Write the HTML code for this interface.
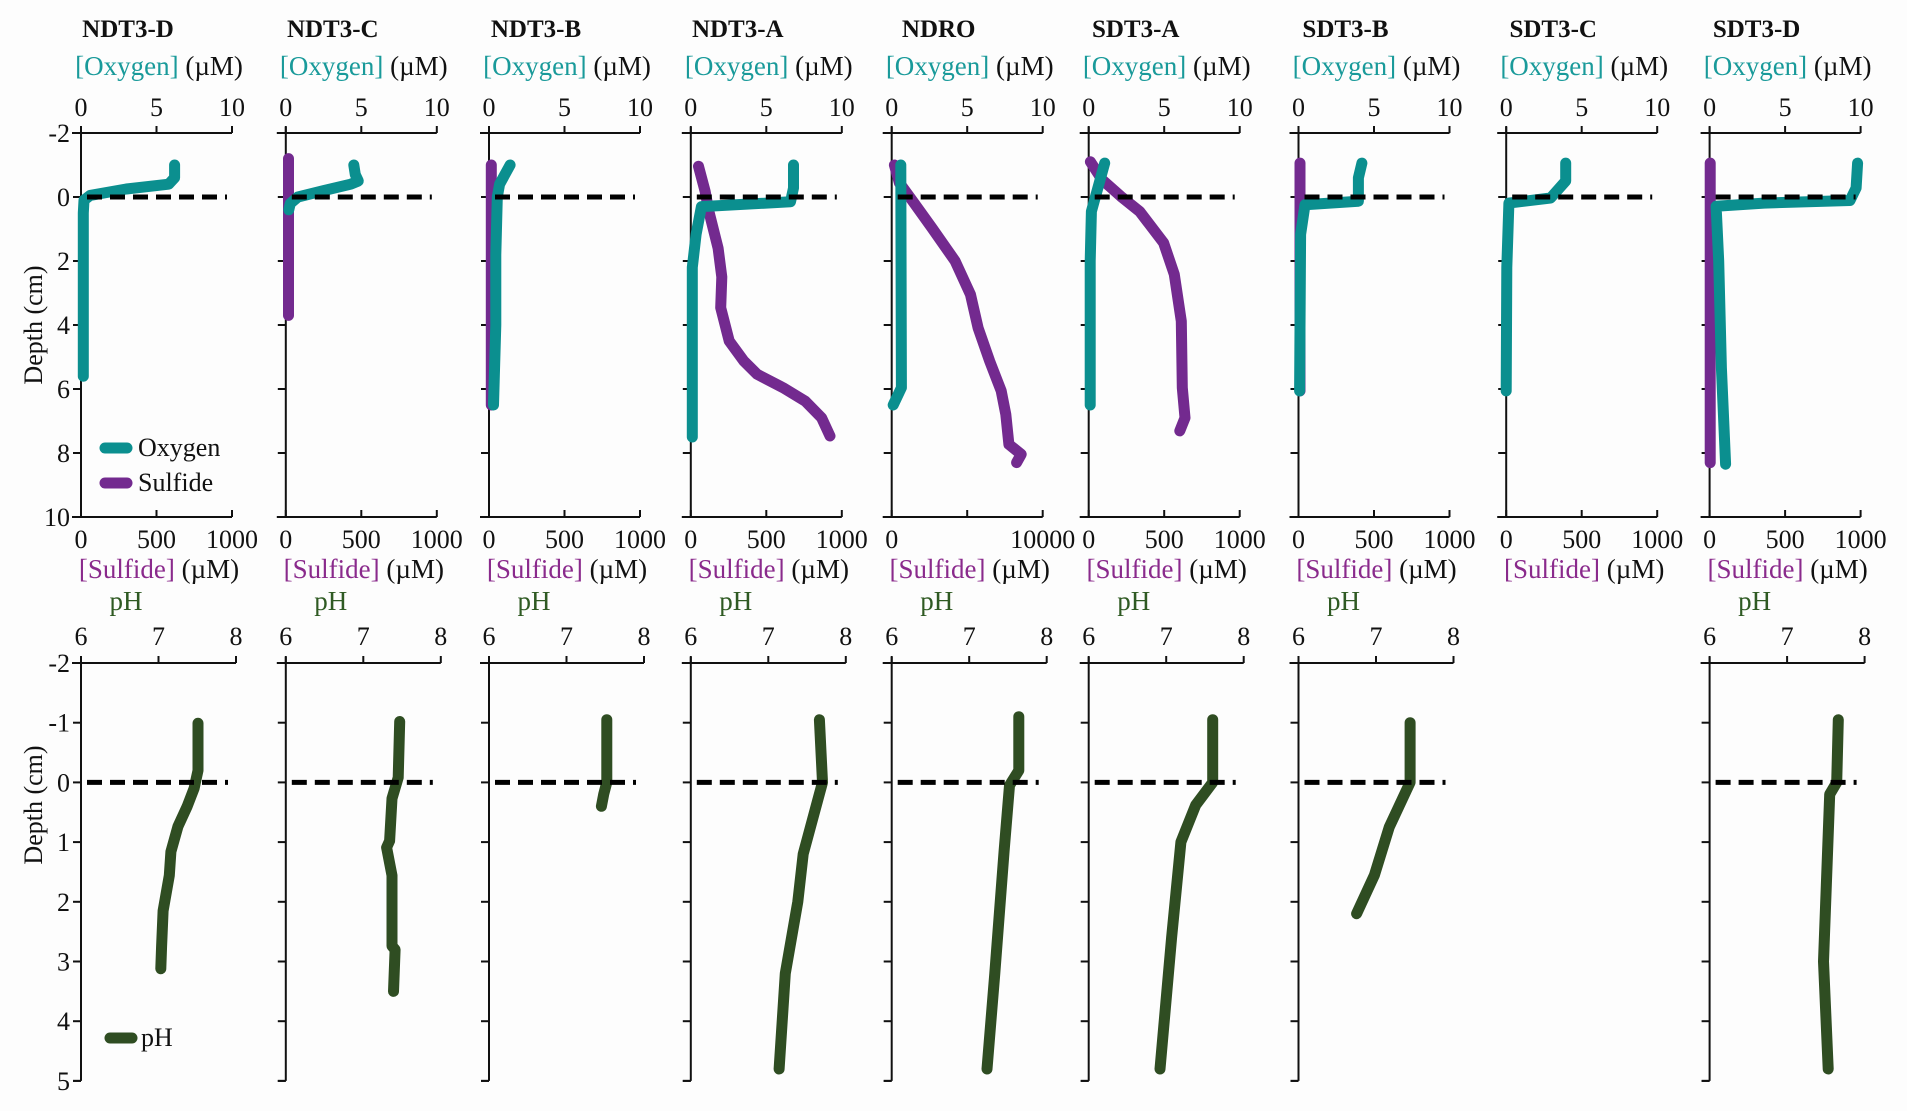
<!DOCTYPE html>
<html><head><meta charset="utf-8"><style>
html,body{margin:0;padding:0;background:#fdfdfd;}
svg{display:block;font-family:"Liberation Serif",serif;}
</style></head><body>
<svg id="chart" width="1907" height="1111" viewBox="0 0 1907 1111" xmlns="http://www.w3.org/2000/svg"></svg>
<script>
// ---- data ----
const sites = ["NDT3-D","NDT3-C","NDT3-B","NDT3-A","NDRO","SDT3-A","SDT3-B","SDT3-C","SDT3-D"];
const depthTicksTop = [-2,0,2,4,6,8,10];
const depthTicksBot = [-2,-1,0,1,2,3,4,5];
const oxyTicks = [0,5,10];
const sulTickLabels = ["0","500","1000"];
const sulTickLabelsNDRO = ["0","","10000"];
const phTicks = [6,7,8];
// oxygen: [depth, value(0-10)]
const oxygen0 = [[-1.0,6.2],[-0.6,6.2],[-0.4,5.8],[-0.25,3],[-0.05,0.6],[0.1,0.2],[0.5,0.15],[2,0.15],[4,0.15],[5.6,0.15]];
const oxygen1 = [[-1.0,4.5],[-0.7,4.6],[-0.5,4.8],[-0.4,4.3],[-0.2,2.5],[0,0.8],[0.2,0.3],[0.4,0.2]];
const oxygen2 = [[-1.0,1.4],[-0.4,0.7],[0,0.55],[1.8,0.45],[4.0,0.45],[6.5,0.3]];
const oxygen3 = [[-1.0,6.8],[-0.28,6.8],[0.15,6.6],[0.3,0.7],[1.17,0.35],[2.2,0.1],[7.5,0.1]];
const oxygen4 = [[-1.0,0.6],[5.96,0.64],[6.5,0.1]];
const oxygen5 = [[-1.06,1.06],[0.45,0.18],[2.0,0.1],[6.5,0.1]];
const oxygen6 = [[-1.06,4.2],[-0.6,3.97],[0.13,3.97],[0.24,0.43],[1.17,0.14],[6.06,0.07]];
const oxygen7 = [[-1.06,3.94],[-0.5,3.94],[0.03,2.94],[0.19,0.18],[2.2,0.04],[6.06,0]];
const oxygen8 = [[-1.06,9.8],[-0.28,9.7],[0.11,9.3],[0.19,3.6],[0.29,0.43],[2.0,0.6],[5.34,0.78],[8.35,1.06]];
const oxygenSeries = [oxygen0,oxygen1,oxygen2,oxygen3,oxygen4,oxygen5,oxygen6,oxygen7,oxygen8];
// sulfide: [depth, µM]  (NDRO on 0-10000)
const sulfide0 = [];
const sulfide1 = [[-1.2,18],[3.7,18]];
const sulfide2 = [[-1.0,15],[6.5,15]];
const sulfide3 = [[-0.96,51],[-0.18,95],[0.45,120],[1.6,181],[2.5,205],[3.46,198],[4.5,254],[5.13,352],[5.54,440],[5.96,611],[6.38,758],[6.9,866],[7.47,922]];
const sulfide4 = [[-1.0,178],[-0.44,509],[0.13,1400],[0.97,2670],[2.0,4200],[3.05,5216],[4.09,5725],[5.13,6490],[6.06,7250],[6.79,7557],[7.73,7760],[8.04,8575],[8.3,8270]];
const sulfide5 = [[-1.1,11],[-0.54,89],[-0.02,213],[0.45,337],[1.43,496],[2.42,567],[3.88,613],[5.96,620],[6.9,638],[7.31,603]];
const sulfide6 = [[-1.06,10],[6.06,10]];
const sulfide7 = [];
const sulfide8 = [[-1.06,4],[8.3,4]];
const sulfideSeries = [sulfide0,sulfide1,sulfide2,sulfide3,sulfide4,sulfide5,sulfide6,sulfide7,sulfide8];
const sulfideMax = [1000,1000,1000,1000,10000,1000,1000,1000,1000];
// pH: [depth, pH]
const ph0 = [[-0.99,7.51],[-0.2,7.51],[0.1,7.46],[0.4,7.37],[0.74,7.25],[1.16,7.16],[1.56,7.14],[2.15,7.06],[2.74,7.04],[3.12,7.03]];
const ph1 = [[-1.02,7.47],[-0.08,7.45],[0.27,7.37],[0.98,7.34],[1.09,7.3],[1.56,7.37],[2.74,7.37],[2.8,7.41],[3.5,7.39]];
const ph2 = [[-1.05,7.52],[0,7.52],[0.2,7.48],[0.4,7.45]];
const ph3 = [[-1.05,7.66],[0,7.7],[1.2,7.45],[2.0,7.38],[3.2,7.22],[4.8,7.14]];
const ph4 = [[-1.1,7.64],[-0.2,7.64],[0.05,7.52],[1.15,7.45],[3.2,7.33],[4.8,7.23]];
const ph5 = [[-1.05,7.6],[0,7.6],[0.38,7.38],[1.0,7.19],[2.6,7.07],[4.8,6.92]];
const ph6 = [[-1.0,7.44],[0,7.44],[0.75,7.17],[1.55,6.98],[2.2,6.75]];
const ph7 = null;
const ph8 = [[-1.05,7.66],[0,7.64],[0.2,7.55],[3.0,7.47],[4.8,7.53]];
const phSeries = [ph0,ph1,ph2,ph3,ph4,ph5,ph6,ph7,ph8];

// ---- layout ----
const NS="http://www.w3.org/2000/svg";
const svg=document.getElementById('chart');
const panelX=[81,285.8,489,690.8,891.7,1088.7,1298.5,1506.2,1709.6];
const TW=151, PW=155;
const topY0=133, topPx=32;
const botY0=663, botPx=59.7;
const C_OX="#0b8f8f", C_SU="#732a8f", C_PH="#2f4d22";
const FS=26;
function yTop(d){return topY0+(d+2)*topPx;}
function yBot(d){return botY0+(d+2)*botPx;}
function mk(tag,attrs,parent){const e=document.createElementNS(NS,tag);for(const k in attrs)e.setAttribute(k,attrs[k]);(parent||svg).appendChild(e);return e;}
function txt(x,y,s,size,anchor,fill,weight,parent){const t=mk('text',{x:x,y:y,'font-size':size,'text-anchor':anchor||'middle',fill:fill||'#111','font-weight':weight||'normal'},parent);t.textContent=s;return t;}
function line(x1,y1,x2,y2,parent,w,extra){const l=mk('line',Object.assign({x1:x1,y1:y1,x2:x2,y2:y2,stroke:'#111','stroke-width':w||2},extra||{}),parent);return l;}
function path(pts,fx,fy,col,parent){if(!pts||!pts.length)return null;let d='';pts.forEach((p,i)=>{d+=(i?'L':'M')+fx(p[1]).toFixed(1)+' '+fy(p[0]).toFixed(1);});return mk('path',{d:d,fill:'none',stroke:col,'stroke-width':11,'stroke-linecap':'round','stroke-linejoin':'round'},parent);}

sites.forEach((name,i)=>{
  const x0=panelX[i];
  const g=mk('g',{});
  
  
  const t=txt(x0+47,37,name,25,'middle','#111','bold',g);
  
  
  const ol=mk('text',{x:x0+78,y:75,'font-size':27,'text-anchor':'middle'},g);
  
  
  const s1=mk('tspan',{fill:'#199a9a'},ol);s1.textContent='[Oxygen]';
  const s2=mk('tspan',{fill:'#111'},ol);s2.textContent=' (µM)';
  const ax=mk('g',{},g);
  
  
  line(x0-9,topY0,x0+TW,topY0,ax);
  line(x0,topY0-6,x0,yTop(10),ax);
  line(x0-9,yTop(10),x0+TW,yTop(10),ax);
  oxyTicks.forEach(v=>{const xx=x0+v/10*TW;line(xx,topY0-7,xx,topY0,ax);txt(xx,116,String(v),FS,'middle','#111','normal',ax);});
  sulTickLabels.forEach((s,k)=>{const xx=x0+k*TW/2;line(xx,yTop(10)-7,xx,yTop(10),ax);const lab=(i===4?sulTickLabelsNDRO[k]:s);if(lab)txt(xx,548,lab,FS,'middle','#111','normal',ax);});
  depthTicksTop.forEach(d=>{line(x0-8,yTop(d),x0,yTop(d),ax);if(i===0)txt(x0-11,yTop(d)+9,String(d),FS,'end','#111','normal',ax);});
  const sl=mk('text',{x:x0+78,y:578,'font-size':27,'text-anchor':'middle'},g);
  
  
  const s3=mk('tspan',{fill:'#8a2a8c'},sl);s3.textContent='[Sulfide]';
  const s4=mk('tspan',{fill:'#111'},sl);s4.textContent=' (µM)';
  const sm=sulfideMax[i];
  const sp=path(sulfideSeries[i],v=>x0+v/sm*TW,yTop,C_SU,g);
  if(sp){}
  const op=path(oxygenSeries[i],v=>x0+v/10*TW,yTop,C_OX,g);
  if(op){}
  const dl=line(x0+6,yTop(0),x0+TW-5,yTop(0),g,5,{'stroke-dasharray':'15 8',stroke:'#000'});
  
  
  if(phSeries[i]){
    const pt=txt(x0+45,610,'pH',27,'middle','#2f5a23','normal',g);
    
    
    const bx=mk('g',{},g);
    
    
    line(x0-9,botY0,x0+PW,botY0,bx);
    line(x0,botY0-6,x0,yBot(5),bx);
    line(x0-8,yBot(5),x0,yBot(5),bx);
    phTicks.forEach(v=>{const xx=x0+(v-6)/2*PW;line(xx,botY0-7,xx,botY0,bx);txt(xx,645,String(v),FS,'middle','#111','normal',bx);});
    depthTicksBot.forEach(d=>{line(x0-8,yBot(d),x0,yBot(d),bx);if(i===0)txt(x0-11,yBot(d)+9,String(d),FS,'end','#111','normal',bx);});
    const pp=path(phSeries[i],v=>x0+(v-6)/2*PW,yBot,C_PH,g);
    
    
    const dl2=line(x0+6,yBot(0),x0+PW-8,yBot(0),g,5,{'stroke-dasharray':'15 8',stroke:'#000'});
    
    
  }
});
const yt1=txt(0,0,'Depth (cm)',26,'middle','#111','normal');
yt1.setAttribute('transform','translate(42,325) rotate(-90)');


const yt2=txt(0,0,'Depth (cm)',26,'middle','#111','normal');
yt2.setAttribute('transform','translate(42,805) rotate(-90)');


const lg=mk('g',{});


const le1=mk('g',{},lg);


line(105,448,127,448,le1,11,{stroke:C_OX,'stroke-linecap':'round'});
txt(138,456,'Oxygen',26,'start','#111','normal',le1);
const le2=mk('g',{},lg);


line(105,483,127,483,le2,11,{stroke:C_SU,'stroke-linecap':'round'});
txt(138,491,'Sulfide',26,'start','#111','normal',le2);
const le3=mk('g',{},lg);


line(110,1038,132,1038,le3,11,{stroke:C_PH,'stroke-linecap':'round'});
txt(141,1046,'pH',26,'start','#111','normal',le3);
</script>
</body></html>
